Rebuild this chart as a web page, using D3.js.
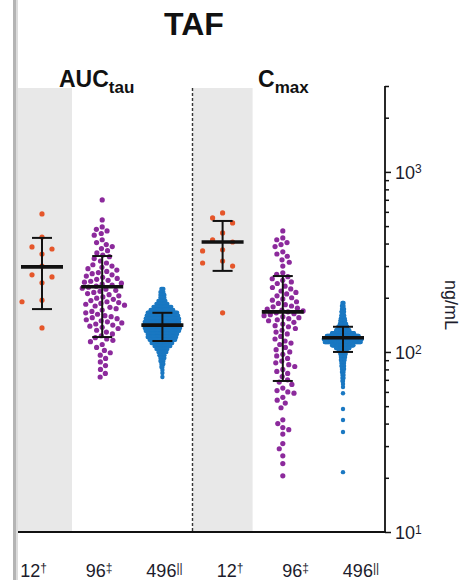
<!DOCTYPE html>
<html><head><meta charset="utf-8">
<script src="https://cdn.jsdelivr.net/npm/d3@7"></script>
<style>body{margin:0;background:#fff;} text{font-family:"Liberation Sans",Arial,sans-serif;}</style>
</head><body><svg id="c" width="466" height="580"></svg>
<script>
// ---------- data ----------
const title = "TAF";
const panelMain = ["AUC", "C"];
const panelSub = ["tau", "max"];
const nLabels = ["12", "96", "496", "12", "96", "496"];
const nMarks = ["†", "‡", "||", "†", "‡", "||"];
const groupColors = ["#E5562A", "#8C2A9C", "#1A78C2", "#E5562A", "#8C2A9C", "#1A78C2"];

const auc12 = [584, 435, 383, 373, 350, 300, 268, 261, 242, 194, 190, 136];
const auc96 = [699, 541, 495, 480, 470, 455, 445, 420, 405, 395, 385, 375, 365, 355, 345, 338, 330,
  320, 312, 305, 300, 295, 290, 285, 280, 276, 272, 268, 264, 260, 256, 253,
  250, 247, 244, 241, 238, 235, 232, 229, 226, 223, 220, 217, 214, 211, 208, 205, 202, 199, 196, 193, 190, 188, 186, 184, 182,
  180, 177, 174, 171, 168, 165, 162, 159, 157, 155, 153, 151, 149, 147, 145, 143, 141, 139, 137, 135,
  132, 129, 126, 123, 120, 118, 116, 114, 110, 106, 102, 99, 96, 92, 88, 84, 80, 76, 72.6];
// [value, number of subjects]
const auc496Bins = [[224,3],[215,4],[207,5],[200,5],[192,8],[185,12],[178,19],[171,24],[165,31],[159,33],
  [153,35],[147,36],[141,38],[136,37],[131,35],[126,31],[121,30],[117,27],[112,22],[108,17],[104,12],
  [100,9],[96,6],[92.6,5],[89,4],[85.8,3],[82.5,2],[79.4,1],[76.4,1],[72.6,1]];

const cmax12 = [592, 555, 521, 458, 420, 408, 369, 364, 320, 312, 300, 165];
const cmax96 = [470, 430, 420, 405, 395, 385, 360, 350, 340, 325, 315, 300,
  275, 270, 262, 255, 250, 245, 240, 232, 228, 224, 218, 214, 210, 205, 200, 197, 194, 190,
  186, 183, 180, 178, 175, 173, 171, 169, 167, 165, 163, 161, 159, 157, 155, 153, 151, 149, 146, 143, 140, 138, 135, 132, 129, 126,
  122, 118, 115, 112, 110, 106, 103, 100, 97, 95, 92, 89, 87, 85, 83, 80, 78, 76,
  73, 70, 68, 66, 63, 61, 60, 59, 56, 54, 52, 49, 42, 40, 38, 37, 35, 31, 29, 26.5, 24, 20.5];
const cmax496Bins = [[187,3],[180,4],[173,5],[167,6],[160,6],[154,8],[149,10],[143,13],[138,18],[132,26],
  [127,43],[122.6,62],[118,74],[113.6,70],[109,42],[105,26],[101,16],[97.5,11],[93.8,9],[90.3,8],
  [86.9,6],[83.6,6],[80.5,5],[77.4,4],[74.5,3],[71.7,3],[69,2],[66.4,1],[63.9,1],[59,1],[48.2,1],
  [41.9,1],[35.9,1],[21.5,1]];

const means   = [297, 230, 141, 408, 167, 120];
const sdUpper = [430, 341, 165, 534, 264, 138];
const sdLower = [173, 121, 115, 282, 69, 100];

const majorTicks = [10, 100, 1000];
const minorTicks = [20, 30, 40, 50, 60, 70, 80, 90, 200, 300, 400, 500, 600, 700, 800, 900, 2000, 3000];
const yLabel = "ng/mL";

// ---------- layout ----------
const expand = bins => bins.flatMap(([v, n]) => d3.range(n).map(() => v));
const groupValues = [auc12, auc96, expand(auc496Bins), cmax12, cmax96, expand(cmax496Bins)];
const swarmOpts = [
  {D: 11, step: 10, r: 2.6}, {D: 6.3, r: 2.6}, {D: 0.98, r: 2.2},
  {D: 11, step: 10, r: 2.6}, {D: 6.3, r: 2.6}, {D: 0.52, r: 2.2}
];

const svg = d3.select("#c");
const plotLeft = 18, plotTop = 86, plotBottom = 532, axisX = 385;
const y = d3.scaleLog().domain([10, 3000]).range([plotBottom, plotTop]);
const x = d3.scaleLinear().domain([0, 5]).range([42, 343]);
const xl = d3.scaleLinear().domain([0, 5]).range([33.5, 361]);

// window frame at left
svg.append("rect").attr("x", 13).attr("y", 0).attr("width", 3).attr("height", 580).attr("fill", "#b4b4b4");
svg.append("rect").attr("x", 16).attr("y", 0).attr("width", 2).attr("height", 580).attr("fill", "#dcdcdc");

// shaded bands
[0, 3].forEach(i => {
  const x0 = Math.max(plotLeft, x(i) - 30), x1 = x(i) + 30;
  svg.append("rect").attr("x", x0).attr("y", plotTop + 2).attr("width", x1 - x0)
    .attr("height", plotBottom - plotTop - 2).attr("fill", "#e8e8e8");
});
// separator
const sepX = (x(2) + x(3)) / 2;
svg.append("line").attr("x1", sepX).attr("x2", sepX).attr("y1", plotTop + 2).attr("y2", plotBottom)
  .attr("stroke", "#333").attr("stroke-width", 1.4).attr("stroke-dasharray", "3,2");

// beeswarm
function swarm(values, D, step) {
  const pts = values.map(v => ({v, y: y(v)})).sort((a, b) => a.y - b.y);
  const placed = [];
  for (const p of pts) {
    const near = placed.filter(q => Math.abs(q.y - p.y) < D);
    const hit = c => near.some(q => Math.hypot(q.x - c, q.y - p.y) < D - 1e-6);
    let xx = 0;
    if (step) {
      for (let k = 0; k < 50; k++) {
        const cs = k === 0 ? [0] : [-k * step, k * step];
        const ok = cs.find(c => !hit(c));
        if (ok !== undefined) { xx = ok; break; }
      }
    } else {
      const cands = [0];
      near.forEach(q => { const dx = Math.sqrt(D * D - (q.y - p.y) ** 2); cands.push(q.x - dx, q.x + dx); });
      cands.sort((a, b) => Math.abs(a) - Math.abs(b) || a - b);
      xx = cands.find(c => !hit(c)) ?? 0;
    }
    p.x = xx; placed.push(p);
  }
  return pts;
}

groupValues.forEach((vals, i) => {
  const o = swarmOpts[i];
  const pts = swarm(vals, o.D, o.step);
  svg.append("g").selectAll("circle").data(pts).join("circle")
    .attr("cx", d => x(i) + d.x).attr("cy", d => d.y).attr("r", o.r)
    .attr("fill", groupColors[i]);
});

// mean and SD bars
const bars = svg.append("g").attr("stroke", "#111");
means.forEach((m, i) => {
  bars.append("line").attr("x1", x(i)).attr("x2", x(i)).attr("y1", y(sdUpper[i])).attr("y2", y(sdLower[i])).attr("stroke-width", 2);
  [sdUpper[i], sdLower[i]].forEach(v => bars.append("line").attr("x1", x(i) - 10).attr("x2", x(i) + 10)
    .attr("y1", y(v)).attr("y2", y(v)).attr("stroke-width", 2));
  bars.append("line").attr("x1", x(i) - 21).attr("x2", x(i) + 21).attr("y1", y(m)).attr("y2", y(m)).attr("stroke-width", 3.6);
});

// axes
const minorAxis = d3.axisRight(y).tickValues(minorTicks).tickSize(4).tickFormat("");
const majorAxis = d3.axisRight(y).tickValues(majorTicks).tickSize(6).tickPadding(4).tickFormat("");
const gMin = svg.append("g").attr("transform", `translate(${axisX},0)`).call(minorAxis);
const gMaj = svg.append("g").attr("transform", `translate(${axisX},0)`).call(majorAxis);
[gMin, gMaj].forEach(g => {
  g.select(".domain").remove();
  g.selectAll("line").attr("stroke", "#111").attr("stroke-width", 1.5);
});
gMaj.selectAll(".tick text").each(function(d) {
  const t = d3.select(this).attr("fill", "#1c1c2c").style("font-size", "18px").attr("dy", "0.36em");
  t.append("tspan").text("10");
  t.append("tspan").text(Math.round(Math.log10(d))).attr("dy", "-0.45em").style("font-size", "12px");
});
svg.append("line").attr("x1", axisX).attr("x2", axisX).attr("y1", plotTop).attr("y2", plotBottom)
  .attr("stroke", "#111").attr("stroke-width", 1.8);
svg.append("line").attr("x1", plotLeft).attr("x2", axisX + 0.9).attr("y1", plotBottom).attr("y2", plotBottom)
  .attr("stroke", "#111").attr("stroke-width", 1.8);

// x labels
nLabels.forEach((lab, i) => {
  const t = svg.append("text").attr("x", xl(i)).attr("y", 577).attr("text-anchor", "middle")
    .attr("fill", "#1c1c2c").style("font-size", "18px");
  t.append("tspan").text(lab);
  t.append("tspan").text(nMarks[i]).attr("dy", "-0.45em").style("font-size", "12px");
});

// y label
svg.append("text").attr("transform", "translate(445,305) rotate(90)").attr("text-anchor", "middle")
  .attr("fill", "#1c1c2c").style("font-size", "18px").text(yLabel);

// title and panel headings
svg.append("text").attr("x", 194).attr("y", 35).attr("text-anchor", "middle")
  .style("font-size", "32px").style("font-weight", "bold").attr("fill", "#111").text(title);
[59, 258].forEach((px, i) => {
  const t = svg.append("text").attr("x", px).attr("y", 87).style("font-weight", "bold").attr("fill", "#111");
  t.append("tspan").text(panelMain[i]).style("font-size", "23px");
  t.append("tspan").text(panelSub[i]).attr("dy", 6).style("font-size", "17px");
});
</script></body></html>
